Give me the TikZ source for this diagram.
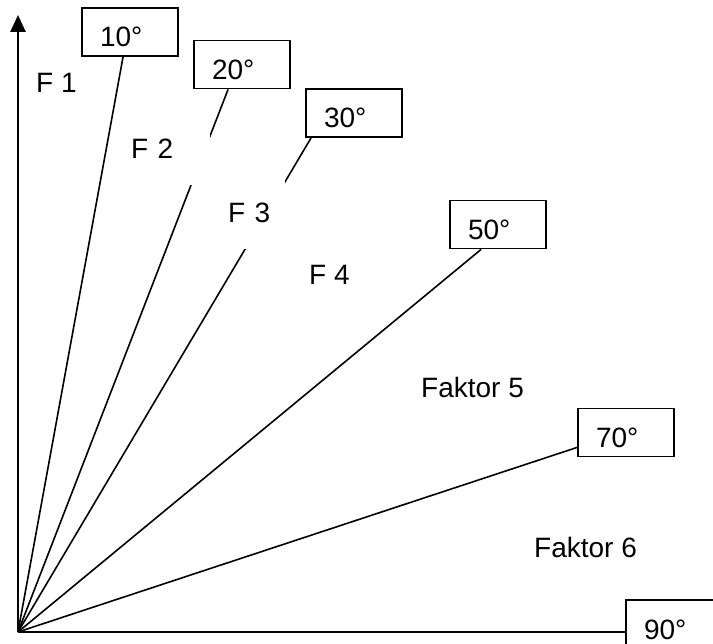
\documentclass[tikz,border=0pt]{standalone}
\usepackage{fontspec}
\setmainfont{Liberation Sans}
\usetikzlibrary{arrows.meta}

\begin{document}
\begin{tikzpicture}[x=1pt,y=-1pt,font=\fontsize{28}{34}\selectfont,
	deg box/.style={rectangle,draw,line width=1.9pt,fill=white,inner xsep=18pt,inner ysep=9pt,text width=60pt,align=left,text height=30pt,text depth=0pt},
	ray/.style={line width=1.6pt},
	axis/.style={line width=2.6pt},
	mask/.style={anchor=north west,fill=white,inner xsep=6pt,inner ysep=0pt,align=left},
	factor/.style={anchor=base west,inner sep=0pt}]
	
	\useasboundingbox (0,0) rectangle (713,644);
	
	\coordinate (O) at (18,632);
	\coordinate (top) at (18,15);
	
	\node[deg box] (w10) at (130,32) {10°};
	\node[deg box] (w20) at (242,64.5) {20°};
	\node[deg box] (w30) at (354,113) {30°};
	\node[deg box] (w50) at (498,224.5) {50°};
	\node[deg box] (w70) at (626,432.5) {70°};
	\node[deg box] (w90) at (674,624) {90°};
	
	\draw[axis,-{Triangle[width=15pt,length=17pt]}] (O) -- (top);
	\draw[axis] (O) -- (O -| w90.west);
	
	\path[ray,draw]
	(O) edge ([xshift=42pt]w10.south west)
	(O) edge ([xshift=35pt]w20.south west)
	(O) edge ([xshift=6pt]w30.south west)
	(O) edge ([xshift=32pt]w50.south west)
	(O) edge ([yshift=10pt]w70.south west)
	;
	
	\node[factor] (F1) at (36,93) {F 1};
	\node[mask,text width=73pt,text height=28pt,text depth=27pt] (F2) at (125,130) {F 2};
	\node[mask,text width=50.5pt,text height=47pt,text depth=27pt] (F3) at (222,175) {F 3};
	\node[factor] (F4) at (309,285) {F 4};
	\node[factor] (F5) at (421,398) {Faktor 5};
	\node[factor] (F6) at (534,557) {Faktor 6};
\end{tikzpicture}
\end{document}
